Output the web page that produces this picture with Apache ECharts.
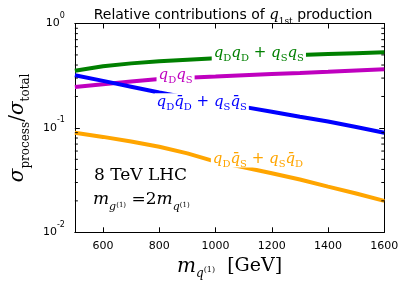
<!DOCTYPE html>
<html><head><meta charset="utf-8">
<script src="https://cdn.jsdelivr.net/npm/echarts@6/dist/echarts.min.js"></script>
<style>html,body{margin:0;padding:0;background:#fff}#c{width:407px;height:287px}</style>
</head><body><div id="c"></div>
<script>
const masses = [500, 600, 700, 800, 900, 1000, 1100, 1200, 1300, 1400, 1500, 1600];
const qDqD_qSqS = [0.353, 0.39, 0.415, 0.435, 0.45, 0.464, 0.477, 0.49, 0.50, 0.51, 0.52, 0.53];
const qDqS = [0.247, 0.262, 0.278, 0.294, 0.302, 0.31, 0.319, 0.328, 0.336, 0.345, 0.355, 0.364];
const qDqDbar_qSqSbar = [0.319, 0.282, 0.248, 0.218, 0.195, 0.176, 0.159, 0.143, 0.128, 0.115, 0.102, 0.090];
const qDqSbar_qSqDbar = [0.090, 0.082, 0.074, 0.066, 0.057, 0.0476, 0.042, 0.0368, 0.032, 0.0274, 0.0235, 0.020];
const xTicks = [600, 800, 1000, 1200, 1400, 1600];
const yTicks = [0.01, 0.1, 1];
const yMinorTicks = [0.02,0.03,0.04,0.05,0.06,0.07,0.08,0.09,0.2,0.3,0.4,0.5,0.6,0.7,0.8,0.9];

const serif = 'DejaVu Serif';
const sans = 'DejaVu Sans';
function richFor(color){
  return {
    q:{fontFamily:serif,fontStyle:'italic',fontSize:15,color:color,lineHeight:17},
    s:{fontFamily:serif,fontSize:10,color:color,verticalAlign:'bottom',lineHeight:17,padding:[0,0,-2,0]},
    p:{fontFamily:sans,fontSize:15,color:color,lineHeight:17}
  };
}
function pairs(arr){ return masses.map((m,i)=>[m,arr[i]]); }
function lineSeries(name, arr, color, lbl, at){
  return {
    name, type:'line', data:pairs(arr), symbol:'none', smooth:false,
    lineStyle:{color, width:4}, xAxisIndex:0, yAxisIndex:0, z:2,
    markPoint:{symbol:'rect', symbolSize:0, silent:true, data:[{coord:at, value:0}],
      label:{show:true, position:'inside', formatter:lbl, backgroundColor:'#fff', padding:[0,2,0,2], rich:richFor(color)}}
  };
}
const chart = echarts.init(document.getElementById('c'), null, {renderer:'canvas'});
const majorTickStyle = {show:true, inside:true, length:5, lineStyle:{color:'#000', width:1}};
chart.setOption({
  animation:false,
  title:{
    text:'Relative contributions of {q|q}{s|1st} production',
    left:228, top:1, textAlign:'center',
    textStyle:{fontFamily:sans, fontSize:14, fontWeight:'normal', color:'#000', lineHeight:18,
      rich:{q:{fontFamily:serif,fontStyle:'italic',fontSize:15,color:'#000',lineHeight:18},
            s:{fontFamily:serif,fontSize:9,color:'#000',verticalAlign:'bottom',lineHeight:18,padding:[0,0,-2,0]}}}
  },
  grid:{left:70.5, right:22.7, top:23.5, bottom:54.7},
  xAxis:[{
    type:'value', min:500, max:1600, position:'bottom',
    axisLine:{show:true, onZero:false, lineStyle:{color:'#000', width:1}},
    axisTick:Object.assign({customValues:xTicks}, majorTickStyle),
    axisLabel:{customValues:xTicks, formatter:v=>String(v), fontFamily:sans, fontSize:11, color:'#000', margin:8},
    splitLine:{show:false},
    name:'{m|m}{sub|q}{sup|(1)}{t|  [GeV]}', nameLocation:'middle', nameGap:24,
    nameTextStyle:{rich:{
      m:{fontFamily:serif,fontStyle:'italic',fontSize:20,color:'#000'},
      sub:{fontFamily:serif,fontStyle:'italic',fontSize:12,color:'#000',verticalAlign:'bottom',padding:[0,0,-4,0]},
      sup:{fontFamily:serif,fontSize:8,color:'#000',verticalAlign:'bottom',padding:[0,0,2,0]},
      t:{fontFamily:serif,fontSize:19,color:'#000'}}}
  },{
    type:'value', min:500, max:1600, position:'top',
    axisLine:{show:true, onZero:false, lineStyle:{color:'#000', width:1}},
    axisTick:Object.assign({customValues:xTicks}, majorTickStyle),
    axisLabel:{show:false}, splitLine:{show:false}
  }],
  yAxis:[{
    type:'log', min:0.01, max:1, logBase:10, position:'left',
    axisLine:{show:true, lineStyle:{color:'#000', width:1}},
    axisTick:Object.assign({customValues:yTicks}, majorTickStyle),
    axisLabel:{customValues:yTicks, color:'#000', margin:10,
      formatter:v=>'10{sup|'+Math.round(Math.log10(v))+'}',
      fontFamily:sans, fontSize:11,
      rich:{sup:{fontFamily:sans,fontSize:8,color:'#000',verticalAlign:'top',padding:[-6,0,0,0]}}},
    splitLine:{show:false},
    name:'{s|σ}{sub|process}{t|/}{s|σ}{sub|total}', nameLocation:'middle', nameRotate:90, nameGap:37,
    nameTextStyle:{rich:{
      s:{fontFamily:serif,fontStyle:'italic',fontSize:20,color:'#000'},
      sub:{fontFamily:serif,fontSize:12,color:'#000',verticalAlign:'bottom',padding:[0,0,-4,0]},
      t:{fontFamily:serif,fontSize:20,color:'#000'}}}
  },{
    type:'log', min:0.01, max:1, logBase:10, position:'right',
    axisLine:{show:true, lineStyle:{color:'#000', width:1}},
    axisTick:Object.assign({customValues:yTicks}, majorTickStyle),
    axisLabel:{show:false}, splitLine:{show:false}
  }],
  series:[
    lineSeries('qDqD+qSqS', qDqD_qSqS, '#008000', '{q|q}{s|D}{q|q}{s|D}{p| + }{q|q}{s|S}{q|q}{s|S}', [1154, 0.52]),
    lineSeries('qDqS', qDqS, '#bf00bf', '{q|q}{s|D}{q|q}{s|S}', [858, 0.32]),
    lineSeries('qDqDbar+qSqSbar', qDqDbar_qSqSbar, '#0000ff', '{q|q}{s|D}{q|q\u0304}{s|D}{p| + }{q|q}{s|S}{q|q\u0304}{s|S}', [951, 0.178]),
    lineSeries('qDqSbar+qSqDbar', qDqSbar_qSqDbar, '#ffa500', '{q|q}{s|D}{q|q\u0304}{s|S}{p| + }{q|q}{s|S}{q|q\u0304}{s|D}', [1151, 0.0505]),
    {
      type:'custom', silent:true, z:5, xAxisIndex:0, yAxisIndex:0,
      data:yMinorTicks.map(v=>[v]),
      renderItem:function(params, api){
        const pL = api.coord([500, api.value(0)]);
        const pR = api.coord([1600, api.value(0)]);
        return {type:'group', children:[
          {type:'line', shape:{x1:pL[0], y1:pL[1], x2:pL[0]+3, y2:pL[1]}, style:{stroke:'#000', lineWidth:1}},
          {type:'line', shape:{x1:pR[0]-3, y1:pR[1], x2:pR[0], y2:pR[1]}, style:{stroke:'#000', lineWidth:1}}
        ]};
      }
    }
  ],
  graphic:[
    {type:'text', left:94, top:167, style:{text:'8 TeV LHC', fontFamily:serif, fontSize:17, fill:'#000'}},
    {type:'text', left:93, top:191, style:{
      text:'{m|m}{sub|g}{sup|(1)}{t| =2}{m|m}{sub|q}{sup|(1)}',
      rich:{
        m:{fontFamily:serif,fontStyle:'italic',fontSize:17,fill:'#000',lineHeight:20},
        sub:{fontFamily:serif,fontStyle:'italic',fontSize:11,fill:'#000',verticalAlign:'bottom',lineHeight:20,padding:[0,0,-3,0]},
        sup:{fontFamily:serif,fontSize:7,fill:'#000',verticalAlign:'bottom',lineHeight:20,padding:[0,0,1,0]},
        t:{fontFamily:serif,fontSize:17,fill:'#000',lineHeight:20}
      }}}
  ]
});
</script>
</body></html>
